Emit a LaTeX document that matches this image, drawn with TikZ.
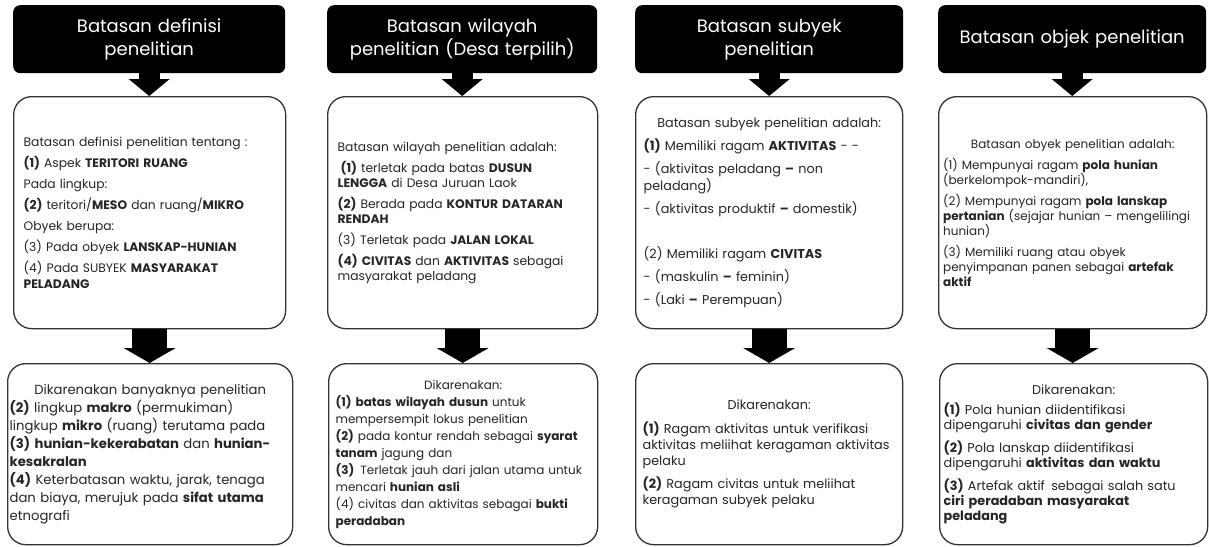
\documentclass[tikz,border=0pt]{standalone}
\usepackage{fontspec}
\setmainfont{Poppins}
\usetikzlibrary{arrows.meta,positioning}
\setlength{\parindent}{0pt}

\tikzset{
  judul/.style={fill=black, text=white, rounded corners=7pt, align=center,
    anchor=north west, inner sep=0pt, minimum height=68pt,
    font=\fontsize{18}{23}\selectfont},
  isi/.style={draw=black!80, line width=1.3pt, rounded corners=18pt, fill=white,
    anchor=north west, align=left, text=black!85},
  panah/.style={line width=21pt, -{Triangle[width=41pt,length=17pt,line width=0pt]}},
  panahbesar/.style={line width=35pt, -{Triangle[width=52pt,length=15pt,line width=0pt]}},
}
\newcommand{\tengah}[1]{{\centering #1\par}}

\begin{document}
\begin{tikzpicture}[x=1pt,y=-1pt]
\useasboundingbox (0,0) rectangle (1209,546);

% judul kolom
\node[judul, minimum width=272pt, text width=272pt] (j1) at (13,5) {Batasan definisi\\penelitian};
\node[judul, minimum width=270pt, text width=270pt] (j2) at (327,5) {Batasan wilayah\\penelitian (Desa terpilih)};
\node[judul, minimum width=268pt, text width=268pt] (j3) at (635,5) {Batasan subyek\\penelitian};
\node[judul, minimum width=268pt, text width=268pt] (j4) at (938,5) {Batasan objek penelitian};

% kotak batasan
\node[isi, text width=252pt, inner xsep=10pt, minimum height=232pt,
  font=\fontsize{12.3}{16}\selectfont] (m1) at (13,96) {%
Batasan definisi penelitian tentang :\\[5pt]
\textbf{(1)} Aspek \textbf{TERITORI RUANG}\\[5pt]
Pada lingkup:\\[5pt]
\textbf{(2)} teritori/\textbf{MESO} dan ruang/\textbf{MIKRO}\\[5pt]
Obyek berupa:\\[5pt]
(3) Pada obyek \textbf{LANSKAP-HUNIAN}\\[5pt]
(4) Pada SUBYEK \textbf{MASYARAKAT}\\
\textbf{PELADANG}};

\node[isi, text width=250pt, inner xsep=10pt, minimum height=232pt,
  font=\fontsize{12.3}{15}\selectfont] (m2) at (327,96) {%
Batasan wilayah penelitian adalah:\\[6pt]
\hspace*{3pt}\textbf{(1)} terletak pada batas \textbf{DUSUN}\\
\textbf{LENGGA} di Desa Juruan Laok\\[6pt]
\textbf{(2)} Berada pada \textbf{KONTUR DATARAN}\\
\textbf{RENDAH}\\[6pt]
(3) Terletak pada \textbf{JALAN LOKAL}\\[6pt]
\textbf{(4) CIVITAS} dan \textbf{AKTIVITAS} sebagai\\
masyarakat peladang};

\node[isi, text width=251pt, inner xsep=8pt, minimum height=232pt,
  font=\fontsize{12.8}{17}\selectfont] (m3) at (635,96) {%
\tengah{Batasan subyek penelitian adalah:}\vspace{6pt}
\textbf{(1)} Memiliki ragam \textbf{AKTIVITAS} - -\\[6pt]
- (aktivitas peladang \textbf{--} non\\
peladang)\\[6pt]
- (aktivitas produktif \textbf{--} domestik)\\[28pt]
(2) Memiliki ragam \textbf{CIVITAS}\\[6pt]
- (maskulin \textbf{--} feminin)\\[6pt]
- (Laki \textbf{--} Perempuan)};

\node[isi, text width=259pt, inner xsep=4.5pt, minimum height=232pt,
  font=\fontsize{12}{15}\selectfont] (m4) at (938,96) {%
\tengah{Batasan obyek penelitian adalah:}\vspace{6pt}
(1) Mempunyai ragam \textbf{pola hunian}\\
(berkelompok-mandiri),\\[6pt]
(2) Mempunyai ragam \textbf{pola lanskap}\\
\textbf{pertanian} (sejajar hunian -- mengelilingi\\
hunian)\\[6pt]
(3) Memiliki ruang atau obyek\\
penyimpanan panen sebagai \textbf{artefak}\\
\textbf{aktif}};

% kotak alasan
\node[isi, text width=281pt, inner xsep=2pt, minimum height=181pt,
  font=\fontsize{13.2}{18}\selectfont] (b1) at (7,363) {%
\tengah{Dikarenakan banyaknya penelitian}
\textbf{(2)} lingkup \textbf{makro} (permukiman)\\
lingkup \textbf{mikro} (ruang) terutama pada\\
\textbf{(3) hunian-kekerabatan} dan \textbf{hunian-}\\
\textbf{kesakralan}\\
\textbf{(4)} Keterbatasan waktu, jarak, tenaga\\
dan biaya, merujuk pada \textbf{sifat utama}\\
etnografi};

\node[isi, text width=255pt, inner xsep=7pt, minimum height=181pt,
  font=\fontsize{12}{17}\selectfont] (b2) at (328,363) {%
\tengah{Dikarenakan:}
\textbf{(1) batas wilayah dusun} untuk\\
mempersempit lokus penelitian\\
\textbf{(2)} pada kontur rendah sebagai \textbf{syarat}\\
\textbf{tanam} jagung dan\\
\textbf{(3)}\, Terletak jauh dari jalan utama untuk\\
mencari \textbf{hunian asli}\\
(4) civitas dan aktivitas sebagai \textbf{bukti}\\
\textbf{peradaban}};

\node[isi, text width=253pt, inner xsep=7pt, minimum height=181pt,
  font=\fontsize{12.8}{16}\selectfont] (b3) at (635,363) {%
\tengah{Dikarenakan:}\vspace{8pt}
\textbf{(1)} Ragam aktivitas untuk verifikasi\\
aktivitas meliihat keragaman aktivitas\\
pelaku\\[7pt]
\textbf{(2)} Ragam civitas untuk meliihat\\
keragaman subyek pelaku};

\node[isi, text width=260pt, inner xsep=4pt, minimum height=181pt,
  font=\fontsize{12.8}{15}\selectfont] (b4) at (939,363) {%
\tengah{Dikarenakan:}\vspace{5pt}
\textbf{(1)} Pola hunian diidentifikasi\\
dipengaruhi \textbf{civitas dan gender}\\[7pt]
\textbf{(2)} Pola lanskap diidentifikasi\\
dipengaruhi \textbf{aktivitas dan waktu}\\[7pt]
\textbf{(3)} Artefak aktif\, sebagai salah satu\\
\textbf{ciri peradaban masyarakat}\\
\textbf{peladang}};

% panah
\foreach \k in {1,2,3,4}{
  \draw[panah] (j\k.south) -- (j\k.south |- m\k.north);
  \draw[panahbesar] (m\k.south) -- (m\k.south |- b\k.north);
}
\end{tikzpicture}
\end{document}
